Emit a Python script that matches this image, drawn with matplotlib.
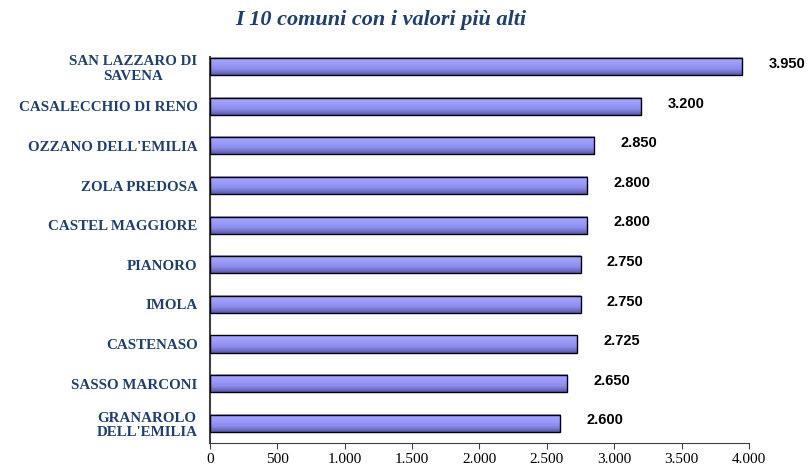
import numpy as np
import matplotlib.pyplot as plt
from matplotlib.colors import LinearSegmentedColormap

# Dati
comuni = ['SAN LAZZARO DI\nSAVENA', 'CASALECCHIO DI RENO', "OZZANO DELL'EMILIA",
          'ZOLA PREDOSA', 'CASTEL MAGGIORE', 'PIANORO', 'IMOLA', 'CASTENASO',
          'SASSO MARCONI', "GRANAROLO\nDELL'EMILIA"]
valori = [3950, 3200, 2850, 2800, 2800, 2750, 2750, 2725, 2650, 2600]
etichette = ['3.950', '3.200', '2.850', '2.800', '2.800', '2.750', '2.750', '2.725', '2.650', '2.600']
xticks = [0, 500, 1000, 1500, 2000, 2500, 3000, 3500, 4000]
xtick_labels = ['0', '500', '1.000', '1.500', '2.000', '2.500', '3.000', '3.500', '4.000']

navy = '#1F3F6E'
serif = ['Liberation Serif', 'DejaVu Serif']
sans = ['Liberation Sans', 'DejaVu Sans']

fig = plt.figure(figsize=(8.09, 4.67), dpi=100)
ax = fig.add_axes([0.2596, 0.0514, 0.6662, 0.848])

y = np.arange(len(comuni))[::-1]
bars = ax.barh(y, valori, height=0.43, color='none', edgecolor='black', linewidth=1.0, zorder=3)

# sfumatura delle barre (chiaro in alto, scuro in basso)
cmap = LinearSegmentedColormap.from_list('barra', ['#5A5AA8', '#8C8CE8', '#9C9CFF', '#A8A8FF'])
grad = np.linspace(0, 1, 64).reshape(-1, 1)
for b in bars:
    x0, y0 = b.get_x(), b.get_y()
    ax.imshow(grad, cmap=cmap, aspect='auto', origin='lower',
              extent=[x0, x0 + b.get_width(), y0, y0 + b.get_height()], zorder=2)

for b, t in zip(bars, etichette):
    ax.annotate(t, (b.get_width(), b.get_y() + b.get_height() / 2),
                xytext=(19, 2), textcoords='offset points', va='center', ha='left',
                fontsize=10.5, fontweight='bold', family=sans, color='black')

ax.set_xlim(0, 4000)
ax.set_ylim(-0.5, 9.5)
ax.set_xticks(xticks)
ax.set_xticklabels(xtick_labels, family=serif, fontsize=11)
ax.set_yticks(y)
ax.set_yticklabels(comuni, family=serif, fontsize=10.8, fontweight='bold', color=navy,
                   linespacing=1.15, ha='right', multialignment='center')
ax.tick_params(axis='y', length=0, pad=9)
ax.tick_params(axis='x', length=4, color='#404040', pad=3)

for s in ['top', 'right']:
    ax.spines[s].set_visible(False)
ax.spines['left'].set_color('#404040')
ax.spines['left'].set_linewidth(1.5)
ax.spines['left'].set_bounds(-0.5, 9.25)
ax.spines['bottom'].set_color('#404040')

fig.text(0.471, 0.957, 'I 10 comuni con i valori più alti', family=serif, fontsize=16,
         fontweight='bold', style='italic', color=navy, ha='center', va='center')

fig.savefig('out.png', dpi=100)
